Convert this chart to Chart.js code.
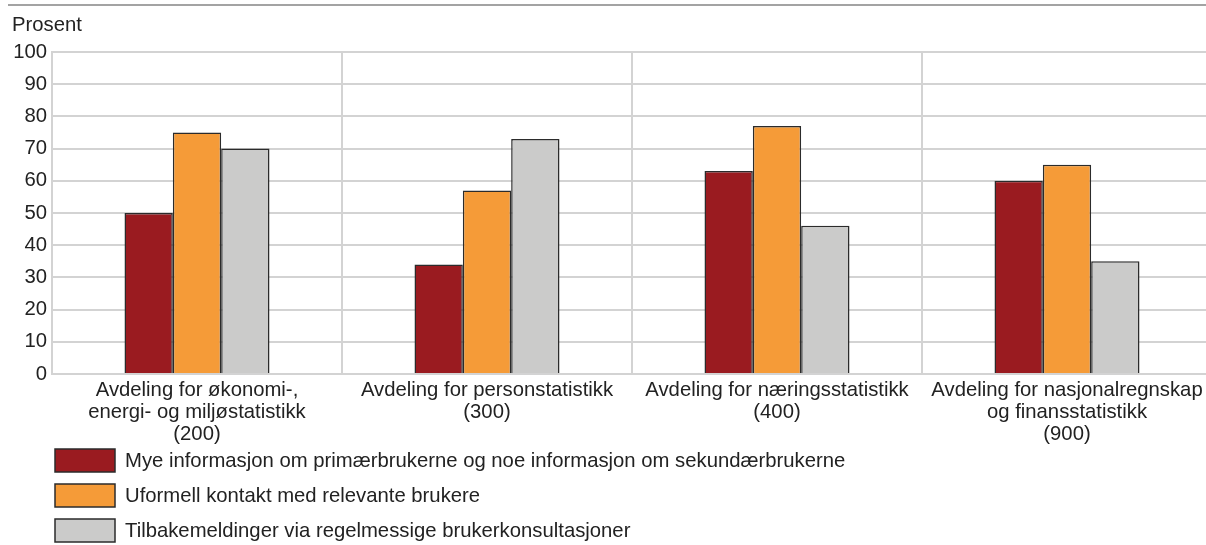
<!DOCTYPE html>
<html>
<head>
<meta charset="utf-8">
<script src="https://cdn.jsdelivr.net/npm/chart.js@4/dist/chart.umd.min.js"></script>
<style>
  html, body { margin: 0; padding: 0; background: #fff; overflow: hidden; }
  #wrap { width: 1212px; height: 545px; }
</style>
</head>
<body>
<div id="wrap"><canvas id="bar_chart"></canvas></div>
<script>
const categories = [
    ['Avdeling for økonomi-,', 'energi- og miljøstatistikk', '(200)'],
    ['Avdeling for personstatistikk', '(300)'],
    ['Avdeling for næringsstatistikk', '(400)'],
    ['Avdeling for nasjonalregnskap', 'og finansstatistikk', '(900)']
];
const seriesNames = [
    'Mye informasjon om primærbrukerne og noe informasjon om sekundærbrukerne',
    'Uformell kontakt med relevante brukere',
    'Tilbakemeldinger via regelmessige brukerkonsultasjoner'
];
const primaerInfo = [50, 34, 63, 60];
const uformellKontakt = [75, 57, 77, 65];
const tilbakemeldinger = [70, 73, 46, 35];
const yTicks = [0, 10, 20, 30, 40, 50, 60, 70, 80, 90, 100];

const colors = ['#9a1b20', '#f59b38', '#cbcbca'];
const FONT = '"Liberation Sans", Arial, Helvetica, sans-serif';
const TEXT = '#222222';
const FSIZE = 20.3;

// top rule, "Prosent" and the stacked legend
const extras = {
    id: 'extras',
    afterDraw(chart) {
        const ctx = chart.ctx;
        ctx.save();
        ctx.strokeStyle = '#a3a3a3';
        ctx.lineWidth = 2;
        ctx.beginPath();
        ctx.moveTo(8, 5);
        ctx.lineTo(chart.width, 5);
        ctx.stroke();

        ctx.font = FSIZE + 'px ' + FONT;
        ctx.fillStyle = TEXT;
        ctx.textBaseline = 'middle';
        ctx.textAlign = 'left';
        ctx.fillText('Prosent', 12, 25);

        chart.data.datasets.forEach((ds, i) => {
            const y = 449 + i * 35;
            ctx.fillStyle = ds.backgroundColor;
            ctx.fillRect(55, y, 60, 23);
            ctx.strokeStyle = '#2b2b2b';
            ctx.lineWidth = 1.5;
            ctx.strokeRect(55, y, 60, 23);
            ctx.fillStyle = TEXT;
            ctx.fillText(ds.label, 125, y + 12);
        });
        ctx.restore();
    }
};

const datasets = [primaerInfo, uformellKontakt, tilbakemeldinger].map((vals, i) => ({
    label: seriesNames[i],
    data: vals,
    backgroundColor: colors[i],
    borderColor: '#2b2b2b',
    borderWidth: 1.5,
    categoryPercentage: 0.5,
    barPercentage: 1.0
}));

var myBarChart = new Chart(document.getElementById('bar_chart'), {
    type: 'bar',
    data: { labels: categories, datasets: datasets },
    options: {
        responsive: true,
        maintainAspectRatio: false,
        animation: false,
        layout: { padding: { top: 52, left: 12, right: 0, bottom: 95 } },
        plugins: {
            legend: { display: false },
            tooltip: { enabled: false }
        },
        scales: {
            x: {
                offset: true,
                grid: { color: '#d3d3d3', lineWidth: 2, offset: true, drawTicks: false },
                border: { color: '#d3d3d3', width: 2 },
                ticks: {
                    color: TEXT,
                    font: { family: FONT, size: FSIZE, lineHeight: 1.085 },
                    padding: 5,
                    maxRotation: 0,
                    autoSkip: false
                }
            },
            y: {
                min: 0,
                max: 100,
                afterFit(scale) { scale.width = 40; },
                afterBuildTicks(scale) { scale.ticks = yTicks.map(v => ({ value: v })); },
                grid: { color: '#d3d3d3', lineWidth: 2, drawTicks: false },
                border: { color: '#d3d3d3', width: 2 },
                ticks: {
                    color: TEXT,
                    font: { family: FONT, size: FSIZE },
                    padding: 5
                }
            }
        }
    },
    plugins: [extras]
});
</script>
</body>
</html>
